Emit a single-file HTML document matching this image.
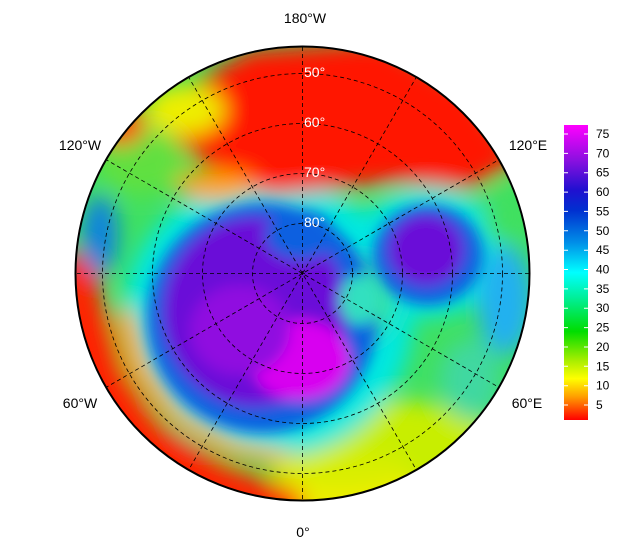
<!DOCTYPE html>
<html><head><meta charset="utf-8"><style>
html,body{margin:0;padding:0;background:#fff;}
svg{display:block;font-family:"Liberation Sans",sans-serif;}
</style></head><body>
<svg width="625" height="552" viewBox="0 0 625 552" xmlns="http://www.w3.org/2000/svg">
<defs>
<clipPath id="c"><circle cx="302.5" cy="273.5" r="227"/></clipPath>
<filter id="b" x="-30%" y="-30%" width="160%" height="160%"><feGaussianBlur stdDeviation="11"/></filter>
<filter id="b2" x="-30%" y="-30%" width="160%" height="160%"><feGaussianBlur stdDeviation="7"/></filter>
<linearGradient id="cb" x1="0" y1="0" x2="0" y2="1">
<stop offset="0" stop-color="#ff00ff"/>
<stop offset="0.12" stop-color="#8a10e0"/>
<stop offset="0.22" stop-color="#2010d0"/>
<stop offset="0.29" stop-color="#0030d0"/>
<stop offset="0.4" stop-color="#0090e8"/>
<stop offset="0.5" stop-color="#00ffff"/>
<stop offset="0.58" stop-color="#00f0a0"/>
<stop offset="0.7" stop-color="#00dd00"/>
<stop offset="0.8" stop-color="#aaee00"/>
<stop offset="0.86" stop-color="#ffff00"/>
<stop offset="0.92" stop-color="#ffa000"/>
<stop offset="1" stop-color="#ff0000"/>
</linearGradient>
</defs>
<g clip-path="url(#c)">
<rect x="60" y="30" width="490" height="490" fill="#40e060"/>
<g filter="url(#b)">
<ellipse cx="390" cy="460" rx="120" ry="60" fill="#c8ee00"/>
<ellipse cx="350" cy="495" rx="70" ry="30" fill="#eeee00"/>
<ellipse cx="268" cy="318" rx="145" ry="140" fill="#00e8e0"/>
<ellipse cx="428" cy="252" rx="75" ry="65" fill="#00e8e0"/>
<path d="M60 250 L60 540 L310 540 L300 492 L225 465 L160 425 L122 370 L102 300 L95 260 Z" fill="#ff2000"/>
<path d="M112 310 L128 370 L165 418 L225 455 L300 470 L300 455 L235 442 L180 410 L148 365 L132 310 Z" fill="#ffa000"/>
<ellipse cx="340" cy="470" rx="70" ry="18" fill="#d8ee00"/>
<path d="M150 120 L200 80 L250 50 L380 40 L470 90 L520 160 L470 188 L400 182 L340 188 L270 195 L230 180 L200 160 Z" fill="#ff1500"/>
<ellipse cx="140" cy="160" rx="45" ry="35" fill="#60e040"/>
<ellipse cx="185" cy="110" rx="40" ry="25" fill="#eeee00"/>
<ellipse cx="215" cy="185" rx="40" ry="15" fill="#ffa000"/>
<ellipse cx="120" cy="125" rx="25" ry="20" fill="#ff4000"/>
<ellipse cx="100" cy="235" rx="18" ry="40" fill="#1080e0"/>
<ellipse cx="505" cy="300" rx="28" ry="55" fill="#20b0f0"/>
<ellipse cx="505" cy="215" rx="22" ry="30" fill="#40e060"/>
<ellipse cx="470" cy="380" rx="30" ry="40" fill="#40d8a0"/>
<ellipse cx="360" cy="300" rx="35" ry="40" fill="#30e0a0"/>
</g>
<g filter="url(#b2)">
<ellipse cx="262" cy="318" rx="115" ry="115" fill="#1060e0"/>
<ellipse cx="255" cy="312" rx="92" ry="95" fill="#6a10d8"/>
<ellipse cx="300" cy="235" rx="35" ry="25" fill="#1060e0"/>
<ellipse cx="300" cy="360" rx="50" ry="40" fill="#d800f0"/>
<ellipse cx="240" cy="330" rx="50" ry="45" fill="#9010e0"/>
<ellipse cx="428" cy="255" rx="55" ry="50" fill="#1060e0"/>
<ellipse cx="426" cy="250" rx="38" ry="36" fill="#6a10d8"/>
<ellipse cx="360" cy="300" rx="20" ry="25" fill="#30e0c0"/>
</g>
<g fill="none" stroke="#000" stroke-width="0.8" stroke-dasharray="4,3">
<circle cx="302.5" cy="273.5" r="50"/>
<circle cx="302.5" cy="273.5" r="100"/>
<circle cx="302.5" cy="273.5" r="150"/>
<circle cx="302.5" cy="273.5" r="200"/>
<line x1="302.5" y1="40" x2="302.5" y2="510"/>
<line x1="105" y1="159" x2="500" y2="388"/>
<line x1="105" y1="388" x2="500" y2="159"/>
<line x1="188" y1="76" x2="417" y2="471"/>
<line x1="417" y1="76" x2="188" y2="471"/>
<line x1="70" y1="273.5" x2="535" y2="273.5"/>
</g>
</g>
<circle cx="302.5" cy="273.5" r="227" fill="none" stroke="#000" stroke-width="2"/>
<g fill="#fff" font-size="14">
<text x="304" y="77">50°</text>
<text x="304" y="127">60°</text>
<text x="304" y="177">70°</text>
<text x="304" y="227">80°</text>
</g>
<g fill="#000" font-size="14" text-anchor="middle">
<text x="305" y="23">180°W</text>
<text x="80" y="150">120°W</text>
<text x="528" y="150">120°E</text>
<text x="80" y="408">60°W</text>
<text x="527" y="408">60°E</text>
<text x="303" y="537">0°</text>
</g>
<rect x="564" y="125" width="24" height="295" fill="url(#cb)"/>
<g stroke="#fff" stroke-width="1">
<path d="M564 134h4M584 134h4M564 153.4h4M584 153.4h4M564 172.7h4M584 172.7h4M564 192.1h4M584 192.1h4M564 211.4h4M584 211.4h4M564 230.8h4M584 230.8h4M564 250.2h4M584 250.2h4M564 269.5h4M584 269.5h4M564 288.9h4M584 288.9h4M564 308.2h4M584 308.2h4M564 327.6h4M584 327.6h4M564 347h4M584 347h4M564 366.3h4M584 366.3h4M564 385.7h4M584 385.7h4M564 405h4M584 405h4"/>
</g>
<g fill="#000" font-size="12">
<text x="596" y="138">75</text><text x="596" y="157.4">70</text><text x="596" y="176.7">65</text>
<text x="596" y="196.1">60</text><text x="596" y="215.4">55</text><text x="596" y="234.8">50</text>
<text x="596" y="254.2">45</text><text x="596" y="273.5">40</text><text x="596" y="292.9">35</text>
<text x="596" y="312.2">30</text><text x="596" y="331.6">25</text><text x="596" y="351">20</text>
<text x="596" y="370.3">15</text><text x="596" y="389.7">10</text><text x="596" y="409">5</text>
</g>
</svg>
</body></html>
